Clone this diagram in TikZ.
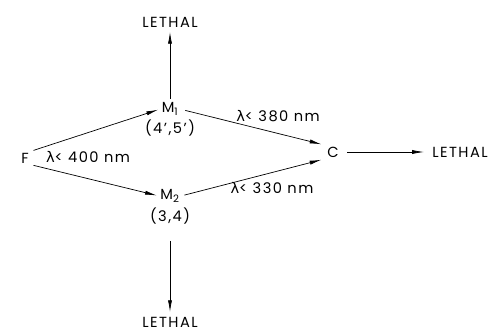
\documentclass[tikz,border=0pt]{standalone}
\usepackage{fontspec}
\setmainfont[LetterSpace=10]{Poppins}
\newfontfamily\greekfont{DejaVu Sans}
\usetikzlibrary{arrows.meta}
\newcommand{\lam}{{\greekfont λ}}

\begin{document}
\begin{tikzpicture}[>={Latex[length=10pt,width=3.5pt]},x=0.03cm,y=-0.03cm]
  \tikzset{
    state/.style={inner sep=1pt,font=\fontsize{12.5}{14}\selectfont},
    tag/.style={inner sep=1pt,font=\fontsize{12.5}{14}\selectfont},
    flow/.style={->,semithick}
  }
  \useasboundingbox (0,0) rectangle (498,333);

  \node[state] (F) at (25,158) {F};
  \node[state] (M1) at (170,109) {M\textsubscript{1}};
  \node[tag] (M1pos) at (170,128) {(4',5')};
  \node[state] (M2) at (170,196) {M\textsubscript{2}};
  \node[tag] (M2pos) at (170,216) {(3,4)};
  \node[state] (C) at (333,152) {C};
  \node[state] (Ltop) at (170,22) {LETHAL};
  \node[state] (Lbot) at (170,322) {LETHAL};
  \node[state] (Lright) at (460,152) {LETHAL};

  \draw[flow,shorten <=3pt,shorten >=2pt] (F.north east) -- (M1.west);
  \draw[flow,shorten <=3pt,shorten >=2pt] (F.south east) -- (M2.west);
  \draw[flow,shorten <=5pt,shorten >=4pt] (M1.east) -- (C.north west);
  \draw[flow,shorten <=3pt,shorten >=4pt] (M2.east) -- (C.south west);
  \draw[flow,shorten <=2pt,shorten >=3pt] (M1.north) -- (Ltop.south);
  \draw[flow,shorten <=13pt,shorten >=3pt] (M2pos.south) -- (Lbot.north);
  \draw[flow,shorten <=6pt,shorten >=6pt] (C.east) -- (Lright.west);

  \node[tag] (l400) at (88,157) {\lam< 400 nm};
  \node[tag] (l380) at (278,116) {\lam< 380 nm};
  \node[tag] (l330) at (272,188) {\lam< 330 nm};
\end{tikzpicture}
\end{document}
